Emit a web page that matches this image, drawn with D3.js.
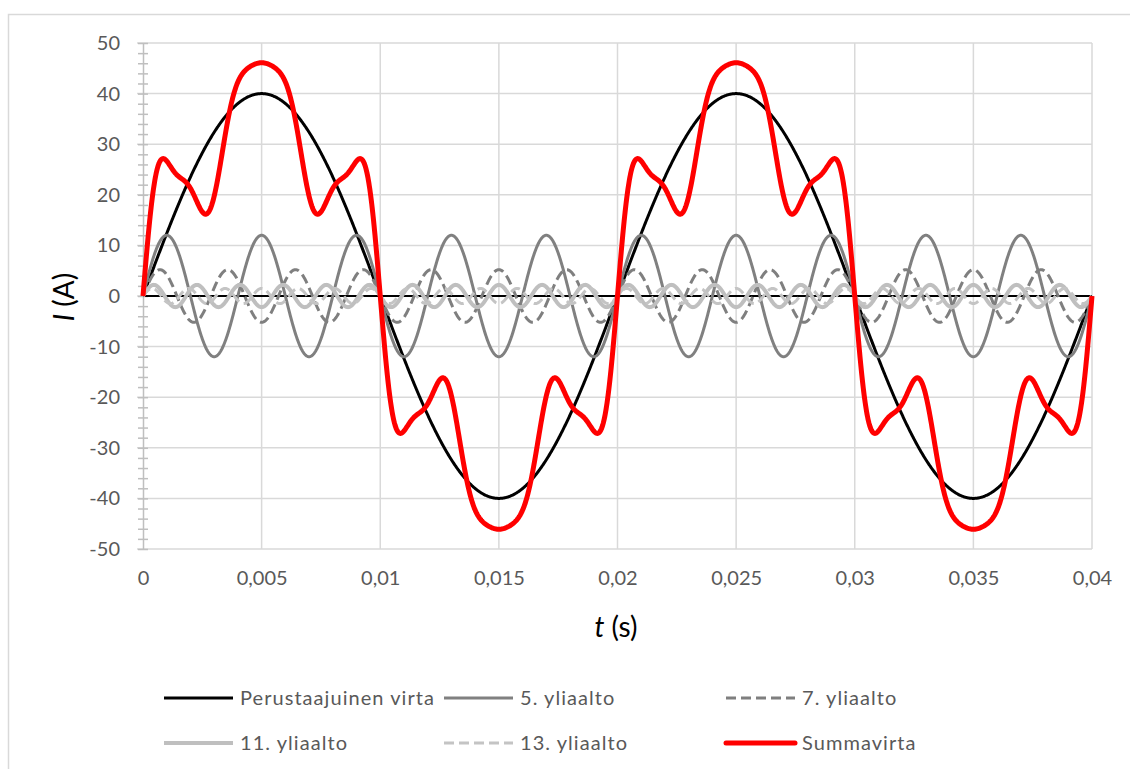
<!DOCTYPE html>
<html>
<head>
<meta charset="utf-8">
<script src="https://cdn.jsdelivr.net/npm/d3@7"></script>
<style>
  html, body { margin: 0; padding: 0; background: #fff; }
  svg { display: block; font-family: Lato, "Open Sans", sans-serif; }
</style>
</head>
<body>
<svg id="chart" width="1130" height="769"></svg>
<script>
// ---- Data ----
const seriesNames = ["Perustaajuinen virta", "5. yliaalto", "7. yliaalto", "11. yliaalto", "13. yliaalto", "Summavirta"];
const harmonicOrders = [1, 5, 7, 11, 13];          // harmonic order of each component
const harmonicAmplitudes = [40, 12, 5.2, 2.2, 1.5]; // peak current (A) of each component
const fundamentalFrequency = 50;                    // Hz
const timeRange = [0, 0.04];                        // s
const xTickValues = [0, 0.005, 0.01, 0.015, 0.02, 0.025, 0.03, 0.035, 0.04];
const yTickValues = [-50, -40, -30, -20, -10, 0, 10, 20, 30, 40, 50];

// ---- Styles ----
const seriesStyles = [
  { color: "#000000", width: 3,   dash: null },
  { color: "#808080", width: 3,   dash: null },
  { color: "#7f7f7f", width: 3,   dash: "10,5" },
  { color: "#bfbfbf", width: 4,   dash: null },
  { color: "#c4c4c4", width: 3,   dash: "10,5" },
  { color: "#ff0000", width: 5,   dash: null }
];

const svg = d3.select("#chart");

// outer chart border
svg.append("rect").attr("x", 8.5).attr("y", 14.5).attr("width", 1140).attr("height", 780)
  .attr("fill", "none").attr("stroke", "#d9d9d9").attr("stroke-width", 1.5);

const x = d3.scaleLinear().domain(timeRange).range([143, 1092]);
const y = d3.scaleLinear().domain([-50, 50]).range([549, 43]);

// gridlines
const grid = svg.append("g");
grid.selectAll("line.h").data(yTickValues).join("line")
  .attr("x1", 137).attr("x2", x.range()[1])
  .attr("y1", d => y(d)).attr("y2", d => y(d))
  .attr("stroke", "#d9d9d9").attr("stroke-width", 1.5);
grid.selectAll("line.v").data(xTickValues.filter(d => d > 0)).join("line")
  .attr("x1", d => x(d)).attr("x2", d => x(d))
  .attr("y1", y(50)).attr("y2", y(-50))
  .attr("stroke", "#d9d9d9").attr("stroke-width", 1.5);

// y axis with minor ticks
const yAxisG = svg.append("g").attr("transform", `translate(${x(0)},0)`);
yAxisG.call(d3.axisLeft(y).tickValues(d3.range(-50, 50.001, 2)).tickSize(0).tickFormat(""));
yAxisG.select(".domain").attr("stroke", "#bfbfbf").attr("stroke-width", 1.5);
yAxisG.selectAll(".tick line").attr("x1", -5).attr("x2", 5).attr("stroke", "#bfbfbf").attr("stroke-width", 1.5);

// y tick labels
const yLab = svg.append("g").attr("transform", `translate(${x(0)},0)`);
yLab.call(d3.axisLeft(y).tickValues(yTickValues).tickSize(0).tickPadding(23).tickFormat(d => String(d)));
yLab.select(".domain").remove();
yLab.selectAll("text").attr("fill", "#595959").style("font-size", "20px").style("font-family", "Lato, sans-serif");

// x tick labels
const xLab = svg.append("g").attr("transform", `translate(0,${y(-50)})`);
xLab.call(d3.axisBottom(x).tickValues(xTickValues).tickSize(0).tickPadding(22).tickFormat(d => String(d).replace(".", ",")));
xLab.select(".domain").remove();
xLab.selectAll("text").attr("fill", "#595959").style("font-size", "20px").style("font-family", "Lato, sans-serif");

// horizontal axis line at 0
svg.append("line").attr("x1", x(0)).attr("x2", x.range()[1]).attr("y1", y(0)).attr("y2", y(0))
  .attr("stroke", "#000").attr("stroke-width", 2);

// ---- build series ----
const times = d3.range(0, 0.04 + 1e-9, 0.00002);
const components = harmonicOrders.map((n, i) =>
  times.map(t => ({ t, v: harmonicAmplitudes[i] * Math.sin(2 * Math.PI * n * fundamentalFrequency * t) })));
const total = times.map((t, k) => ({ t, v: d3.sum(components, c => c[k].v) }));
const allSeries = [...components, total];

const line = d3.line().x(d => x(d.t)).y(d => y(d.v));
const plot = svg.append("g");
allSeries.forEach((s, i) => {
  const st = seriesStyles[i];
  plot.append("path").datum(s).attr("d", line)
    .attr("fill", "none").attr("stroke", st.color).attr("stroke-width", st.width)
    .attr("stroke-linejoin", "round")
    .attr("stroke-dasharray", st.dash);
});

// axis titles
svg.append("text").attr("x", 616).attr("y", 637).attr("text-anchor", "middle")
  .style("font-size", "28px").style("font-family", "Lato, sans-serif").attr("fill", "#000")
  .html('<tspan font-style="italic">t</tspan> (s)');
svg.append("text").attr("transform", "translate(74,297) rotate(-90)").attr("text-anchor", "middle")
  .style("font-size", "28px").style("font-family", "Lato, sans-serif").attr("fill", "#000")
  .html('<tspan font-style="italic">I</tspan> (A)');

// legend
const legendPos = [
  { lx: 164, ty: 698 }, { lx: 444, ty: 698 }, { lx: 726, ty: 698 },
  { lx: 164, ty: 743 }, { lx: 444, ty: 743 }, { lx: 726, ty: 743 }
];
const legend = svg.append("g");
seriesNames.forEach((name, i) => {
  const p = legendPos[i], st = seriesStyles[i];
  legend.append("line").attr("x1", p.lx).attr("x2", p.lx + 69).attr("y1", p.ty).attr("y2", p.ty)
    .attr("stroke", st.color).attr("stroke-width", st.width).attr("stroke-dasharray", st.dash)
    .attr("stroke-linecap", i === 5 ? "round" : "butt");
  legend.append("text").attr("x", p.lx + 76).attr("y", p.ty).attr("dy", "0.35em")
    .attr("fill", "#595959").style("font-size", "20px").style("font-family", "Lato, sans-serif")
    .style("letter-spacing", "1.05px")
    .text(name);
});
</script>
</body>
</html>
